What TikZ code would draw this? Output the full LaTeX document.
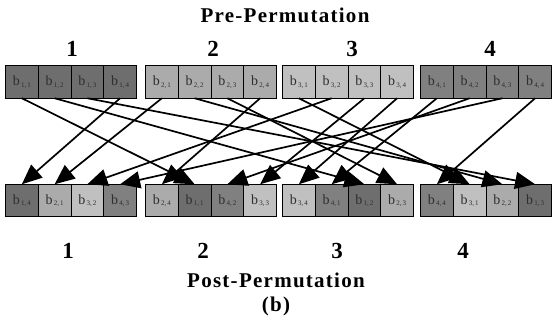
\documentclass[tikz,border=0pt]{standalone}
\usepackage{fontspec}
\setmainfont{Liberation Serif}
\newfontfamily\headfont[LetterSpace=6]{Liberation Serif}
\usetikzlibrary{arrows.meta}

\definecolor{grp1}{HTML}{6E6E6E}
\definecolor{grp2}{HTML}{ABABAB}
\definecolor{grp3}{HTML}{C0C0C0}
\definecolor{grp4}{HTML}{808080}
\definecolor{celltext}{HTML}{2E2E2E}

% block label b_{i,j}
\newcommand{\blocklabel}[2]{b\raisebox{-1.5pt}{\fontsize{7}{8}\selectfont\,#1,\,#2}}

\tikzset{
  cell/.style={draw=black, line width=0.8pt, minimum width=32.75pt,
    minimum height=32.5pt, inner sep=0pt, outer sep=0pt,
    font=\fontsize{14}{15}\selectfont, text=celltext},
  headline/.style={anchor=base, font=\headfont\bfseries\fontsize{21}{23}\selectfont},
  groupnum/.style={anchor=base, font=\bfseries\fontsize{23}{25}\selectfont},
  arr/.style={line width=1.7pt, -{Triangle[length=20pt,width=17pt]}}
}

\begin{document}
\begin{tikzpicture}[x=1pt,y=-1pt]
\useasboundingbox (0,0) rectangle (552,320);

% titles and group numbers
\node[headline] (pre) at (285,23) {Pre-Permutation};
\node[groupnum] (n1) at (72,57) {1};
\node[groupnum] (n2) at (213,57) {2};
\node[groupnum] (n3) at (352,57) {3};
\node[groupnum] (n4) at (490,57) {4};

\node[groupnum] (m1) at (68,259) {1};
\node[groupnum] (m2) at (203,259) {2};
\node[groupnum] (m3) at (337,259) {3};
\node[groupnum] (m4) at (463,259) {4};
\node[headline] (post) at (276,288) {Post-Permutation};
\node[headline] (sub) at (276,312) {(b)};

% pre-permutation blocks
\foreach \g/\s in {1/5.5, 2/145.5, 3/282.5, 4/420.5}{
  \foreach \p in {1,2,3,4}{
    \node[cell, fill=grp\g] (t-\g-\p) at ({\s+32.75*(\p-0.5)},82) {\blocklabel{\g}{\p}};
  }
}

% post-permutation blocks: group/position/source group/source index
\foreach \k/\p/\i/\j in {1/1/1/4, 1/2/2/1, 1/3/3/2, 1/4/4/3,
                         2/1/2/4, 2/2/1/1, 2/3/4/2, 2/4/3/3,
                         3/1/3/4, 3/2/4/1, 3/3/1/2, 3/4/2/3,
                         4/1/4/4, 4/2/3/1, 4/3/2/2, 4/4/1/3}{
  \pgfmathsetmacro{\s}{{5.5,145.5,282.5,420.5}[\k-1]}
  \node[cell, fill=grp\i] (b-\k-\p) at ({\s+32.75*(\p-0.5)},200.5) {\blocklabel{\i}{\j}};
}

% permutation arrows
\foreach \k/\p/\i/\j in {1/1/1/4, 1/2/2/1, 1/3/3/2, 1/4/4/3,
                         2/1/2/4, 2/2/1/1, 2/3/4/2, 2/4/3/3,
                         3/1/3/4, 3/2/4/1, 3/3/1/2, 3/4/2/3,
                         4/1/4/4, 4/2/3/1, 4/3/2/2, 4/4/1/3}{
  \draw[arr] (t-\i-\j.south) -- (b-\k-\p.north);
}
\end{tikzpicture}
\end{document}
